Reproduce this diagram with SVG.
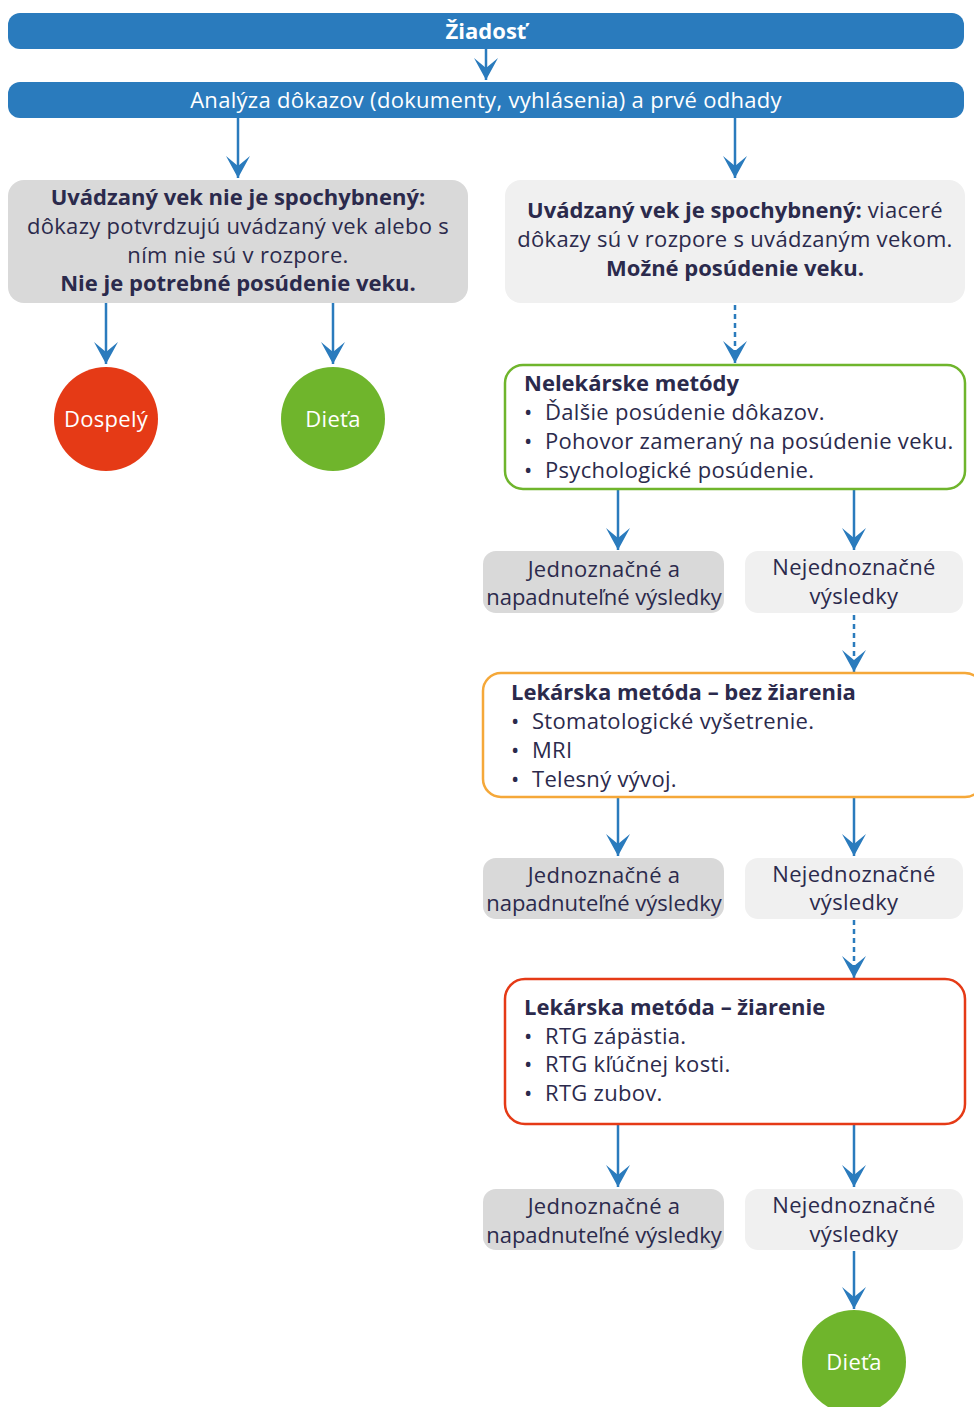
<svg xmlns="http://www.w3.org/2000/svg" width="974" height="1407" viewBox="0 0 974 1407">
<style>
.t{font-family:"Open Sans","Liberation Sans",sans-serif;font-size:22px;fill:#2b2a4c;letter-spacing:0.3px}
.c{text-anchor:middle}
.b{font-weight:bold;letter-spacing:0}
.n{letter-spacing:0}
.w{fill:#ffffff}
.bar{fill:#2a7bbd}
.g1{fill:#d9d9d9}
.g2{fill:#f0f0f0}
.ln{stroke:#2a7bbd;stroke-width:2.5;fill:none}
.d{stroke-dasharray:5 4}
</style>
<defs>
<marker id="ah" viewBox="-23 -12 23 24" refX="0" refY="0" markerWidth="23" markerHeight="24" markerUnits="userSpaceOnUse" orient="auto">
<path d="M0,0 L-22,-12 L-12,0 L-22,12 Z" fill="#2a7bbd"/>
</marker>
</defs>
<g id="connectors">
<line class="ln" x1="486" y1="49" x2="486" y2="80" marker-end="url(#ah)"/>
<line class="ln" x1="238" y1="118" x2="238" y2="178" marker-end="url(#ah)"/>
<line class="ln" x1="735" y1="118" x2="735" y2="178" marker-end="url(#ah)"/>
<line class="ln" x1="106" y1="303" x2="106" y2="364" marker-end="url(#ah)"/>
<line class="ln" x1="333" y1="303" x2="333" y2="364" marker-end="url(#ah)"/>
<line class="ln d" x1="735" y1="305" x2="735" y2="363" marker-end="url(#ah)"/>
<line class="ln" x1="618" y1="490" x2="618" y2="550" marker-end="url(#ah)"/>
<line class="ln" x1="854" y1="490" x2="854" y2="550" marker-end="url(#ah)"/>
<line class="ln d" x1="854" y1="615" x2="854" y2="672" marker-end="url(#ah)"/>
<line class="ln" x1="618" y1="798" x2="618" y2="856" marker-end="url(#ah)"/>
<line class="ln" x1="854" y1="798" x2="854" y2="856" marker-end="url(#ah)"/>
<line class="ln d" x1="854" y1="920" x2="854" y2="978" marker-end="url(#ah)"/>
<line class="ln" x1="618" y1="1125" x2="618" y2="1187" marker-end="url(#ah)"/>
<line class="ln" x1="854" y1="1125" x2="854" y2="1187" marker-end="url(#ah)"/>
<line class="ln" x1="854" y1="1251" x2="854" y2="1309" marker-end="url(#ah)"/>
</g>
<g id="ziadost">
<rect class="bar" x="8" y="13" width="956" height="36" rx="12"/>
<text class="t c b w" x="486" y="39">Žiadosť</text>
</g>
<g id="analyza">
<rect class="bar" x="8" y="82" width="956" height="36" rx="12"/>
<text class="t c w" x="486" y="108">Analýza dôkazov (dokumenty, vyhlásenia) a prvé odhady</text>
</g>
<g id="nespochybneny">
<rect class="g1" x="8" y="180" width="460" height="123" rx="16"/>
<text class="t c b" x="238" y="205">Uvádzaný vek nie je spochybnený:</text>
<text class="t c" x="238" y="234">dôkazy potvrdzujú uvádzaný vek alebo s</text>
<text class="t c" x="238" y="263">ním nie sú v rozpore.</text>
<text class="t c b" x="238" y="291">Nie je potrebné posúdenie veku.</text>
</g>
<g id="dospely">
<circle cx="106" cy="419" r="52" fill="#e53a16"/>
<text class="t c w" x="106" y="427">Dospelý</text>
</g>
<g id="dieta1">
<circle cx="333" cy="419" r="52" fill="#6fb52c"/>
<text class="t c w" x="333" y="427">Dieťa</text>
</g>
<g id="spochybneny">
<rect class="g2" x="505" y="180" width="460" height="123" rx="16"/>
<text class="t c" x="735" y="218"><tspan class="b">Uvádzaný vek je spochybnený:</tspan> viaceré</text>
<text class="t c" x="735" y="247">dôkazy sú v rozpore s uvádzaným vekom.</text>
<text class="t c b" x="735" y="276">Možné posúdenie veku.</text>
</g>
<g id="nelekarske">
<rect x="505" y="365" width="460" height="124" rx="18" fill="#ffffff" stroke="#6fb52c" stroke-width="2.5"/>
<text class="t b" x="524" y="391">Nelekárske metódy</text>
<text class="t" x="524" y="420">•</text><text class="t" x="545" y="420">Ďalšie posúdenie dôkazov.</text>
<text class="t" x="524" y="449">•</text><text class="t" x="545" y="449">Pohovor zameraný na posúdenie veku.</text>
<text class="t" x="524" y="478">•</text><text class="t" x="545" y="478">Psychologické posúdenie.</text>
</g>
<g id="jednoznacne1">
<rect class="g1" x="483" y="551" width="241" height="62" rx="13"/>
<text class="t c" x="604" y="577">Jednoznačné a</text>
<text class="t c n" x="604" y="605">napadnuteľné výsledky</text>
</g>
<g id="nejednoznacne1">
<rect class="g2" x="745" y="551" width="218" height="62" rx="13"/>
<text class="t c" x="854" y="575">Nejednoznačné</text>
<text class="t c" x="854" y="604">výsledky</text>
</g>
<g id="bez-ziarenia">
<rect x="483" y="673" width="500" height="124" rx="18" fill="#ffffff" stroke="#f5a839" stroke-width="2.5"/>
<text class="t b" x="511" y="700">Lekárska metóda – bez žiarenia</text>
<text class="t" x="511" y="729">•</text><text class="t" x="532" y="729">Stomatologické vyšetrenie.</text>
<text class="t" x="511" y="758">•</text><text class="t" x="532" y="758">MRI</text>
<text class="t" x="511" y="787">•</text><text class="t" x="532" y="787">Telesný vývoj.</text>
</g>
<g id="jednoznacne2">
<rect class="g1" x="483" y="858" width="241" height="61" rx="13"/>
<text class="t c" x="604" y="883">Jednoznačné a</text>
<text class="t c n" x="604" y="911">napadnuteľné výsledky</text>
</g>
<g id="nejednoznacne2">
<rect class="g2" x="745" y="858" width="218" height="61" rx="13"/>
<text class="t c" x="854" y="882">Nejednoznačné</text>
<text class="t c" x="854" y="910">výsledky</text>
</g>
<g id="ziarenie">
<rect x="505" y="979" width="460" height="145" rx="20" fill="#ffffff" stroke="#e53a16" stroke-width="2.5"/>
<text class="t b" x="524" y="1015">Lekárska metóda – žiarenie</text>
<text class="t" x="524" y="1044">•</text><text class="t" x="545" y="1044">RTG zápästia.</text>
<text class="t" x="524" y="1072">•</text><text class="t" x="545" y="1072">RTG kľúčnej kosti.</text>
<text class="t" x="524" y="1101">•</text><text class="t" x="545" y="1101">RTG zubov.</text>
</g>
<g id="jednoznacne3">
<rect class="g1" x="483" y="1189" width="241" height="61" rx="13"/>
<text class="t c" x="604" y="1214">Jednoznačné a</text>
<text class="t c n" x="604" y="1243">napadnuteľné výsledky</text>
</g>
<g id="nejednoznacne3">
<rect class="g2" x="745" y="1189" width="218" height="61" rx="13"/>
<text class="t c" x="854" y="1213">Nejednoznačné</text>
<text class="t c" x="854" y="1242">výsledky</text>
</g>
<g id="dieta2">
<circle cx="854" cy="1362" r="52" fill="#6fb52c"/>
<text class="t c w" x="854" y="1370">Dieťa</text>
</g>
</svg>
